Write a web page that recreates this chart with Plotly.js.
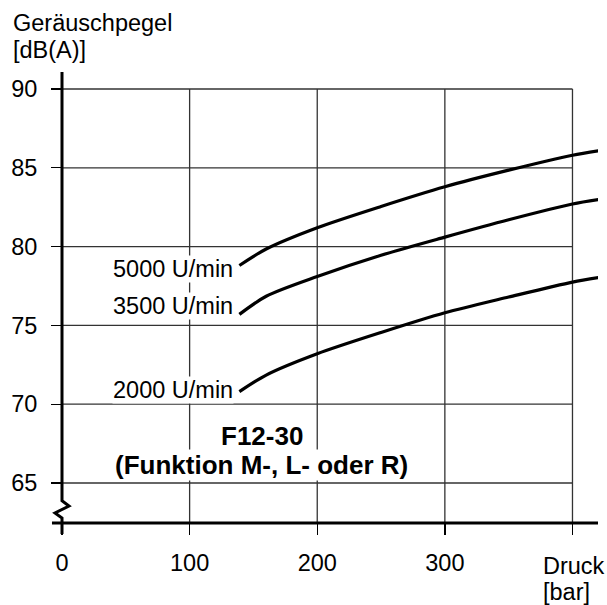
<!DOCTYPE html>
<html>
<head>
<meta charset="utf-8">
<script src="https://cdn.plot.ly/plotly-3.0.1.min.js"></script>
<style>html,body{margin:0;padding:0;background:#fff;}#chart{width:607px;height:605px;}</style>
</head>
<body>
<div id="chart"></div>
<script>
// ---- data ----
const pressure = [139, 160, 200, 250, 300, 350, 400, 422];
const noise5000 = [78.8, 79.85, 81.2, 82.55, 83.8, 84.85, 85.8, 86.1];
const noise3500 = [75.7, 76.85, 78.1, 79.45, 80.6, 81.7, 82.7, 83.0];
const noise2000 = [70.8, 71.85, 73.2, 74.55, 75.8, 76.8, 77.75, 78.05];
const seriesNames = ['5000 U/min', '3500 U/min', '2000 U/min'];
const xTicks = [0, 100, 200, 300, 400];
const xTickText = ['0', '100', '200', '300', ''];
const yTicks = [65, 70, 75, 80, 85, 90];
const yTitleLines = ['Geräuschpegel', '[dB(A)]'];
const xTitleLines = ['Druck', '[bar]'];
const noteLines = ['F12-30', '(Funktion M-, L- oder R)'];

// ---- layout constants ----
const FONT = 'Liberation Sans, Arial, Helvetica, sans-serif';
const xRange = [0, 420];
const yRange = [62.462, 91.079];
const gridColor = '#333';

const series = [noise5000, noise3500, noise2000];
const labelDy = [-0.2, 0.5, 0.1];

const traces = series.map((ys, i) => ({
  x: pressure, y: ys, type: 'scatter', mode: 'lines', name: seriesNames[i],
  line: {color: '#000', width: 3.2, shape: 'spline', smoothing: 0.8},
  cliponaxis: false, hoverinfo: 'skip'
}));

const shapes = [];
// grid box lines built from tick values
yTicks.forEach(v => shapes.push({type: 'line', xref: 'x', yref: 'y', x0: xTicks[0], x1: xTicks[xTicks.length - 1], y0: v, y1: v, line: {color: gridColor, width: 1.3}, layer: 'below'}));
xTicks.slice(1).forEach(v => shapes.push({type: 'line', xref: 'x', yref: 'y', x0: v, x1: v, y0: yRange[0], y1: yTicks[yTicks.length - 1], line: {color: gridColor, width: 1.3}, layer: 'below'}));
// bottom axis line (extends slightly left of the y axis)
shapes.push({type: 'line', xref: 'paper', yref: 'paper', x0: -0.0187, x1: 1, y0: 0, y1: 0, line: {color: '#000', width: 3}});
// y axis line with break symbol
shapes.push({type: 'path', xref: 'paper', yref: 'paper',
  path: 'M 0 1 L 0 0.0494 L 0.01306 0.0377 L -0.01306 0.0222 L 0 0.0111 L 0 -0.0244',
  line: {color: '#000', width: 3}});

const annotations = [];
series.forEach((ys, i) => annotations.push({
  x: pressure[0] - 4, y: ys[0] + labelDy[i], xref: 'x', yref: 'y',
  text: seriesNames[i], showarrow: false, xanchor: 'right', yanchor: 'middle',
  bgcolor: '#fff', borderpad: 0, font: {family: FONT, size: 23.5, color: '#000'}
}));
annotations.push({x: 0.373, y: (523 - 436) / 451 , xref: 'paper', yref: 'paper', text: '<b>' + noteLines[0] + '</b>', showarrow: false, xanchor: 'center', yanchor: 'middle', bgcolor: '#fff', borderpad: 0, font: {family: FONT, size: 26, color: '#000'}});
annotations.push({x: 0.373, y: (523 - 465) / 451, xref: 'paper', yref: 'paper', text: '<b>' + noteLines[1] + '</b>', showarrow: false, xanchor: 'center', yanchor: 'middle', bgcolor: '#fff', borderpad: 0, font: {family: FONT, size: 26, color: '#000'}});
// axis titles
annotations.push({x: -0.0933, y: (523 - 23) / 451, xref: 'paper', yref: 'paper', text: yTitleLines[0], showarrow: false, xanchor: 'left', yanchor: 'middle', borderpad: 0, font: {family: FONT, size: 23.5, color: '#000'}});
annotations.push({x: -0.0933, y: (523 - 50) / 451, xref: 'paper', yref: 'paper', text: yTitleLines[1], showarrow: false, xanchor: 'left', yanchor: 'middle', borderpad: 0, font: {family: FONT, size: 23.5, color: '#000'}});
annotations.push({x: 0.895, y: (523 - 566) / 451, xref: 'paper', yref: 'paper', text: xTitleLines[0], showarrow: false, xanchor: 'left', yanchor: 'middle', borderpad: 0, font: {family: FONT, size: 23.5, color: '#000'}});
annotations.push({x: 0.895, y: (523 - 592) / 451, xref: 'paper', yref: 'paper', text: xTitleLines[1], showarrow: false, xanchor: 'left', yanchor: 'middle', borderpad: 0, font: {family: FONT, size: 23.5, color: '#000'}});

const layout = {
  width: 607, height: 605,
  margin: {l: 62, r: 9, t: 72, b: 82, pad: 0},
  paper_bgcolor: '#fff', plot_bgcolor: '#fff',
  showlegend: false,
  font: {family: FONT, size: 23.5, color: '#000'},
  xaxis: {range: xRange, tickvals: xTicks, ticktext: xTickText, ticks: 'outside', ticklen: 11, tickwidth: 1.3, tickcolor: '#000',
    showgrid: false, zeroline: false, showline: false, ticklabelstandoff: 8,
    tickfont: {family: FONT, size: 23.5, color: '#000'}, fixedrange: true},
  yaxis: {range: yRange, tickvals: yTicks, ticks: 'outside', ticklen: 10, tickwidth: 1.3, tickcolor: '#000',
    showgrid: false, zeroline: false, showline: false, ticklabelstandoff: 9,
    tickfont: {family: FONT, size: 23.5, color: '#000'}, fixedrange: true},
  shapes: shapes,
  annotations: annotations
};

Plotly.newPlot('chart', traces, layout, {displayModeBar: false, staticPlot: true});
</script>
</body>
</html>
